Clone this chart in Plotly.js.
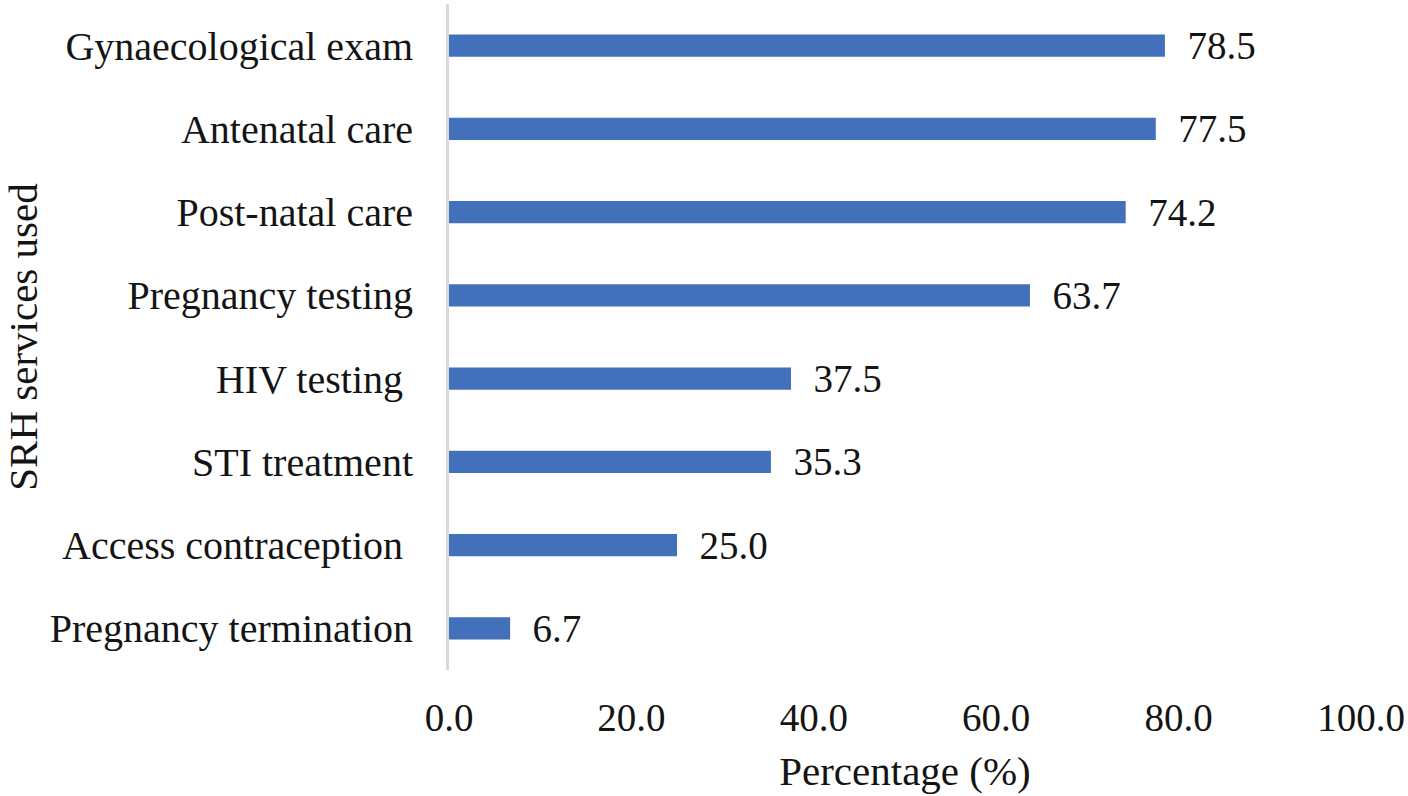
<!DOCTYPE html>
<html>
<head>
<meta charset="utf-8">
<script src="https://cdn.plot.ly/plotly-3.0.1.min.js"></script>
<style>html,body{margin:0;padding:0;background:#fff;}#chart{width:1408px;height:796px;}</style>
</head>
<body>
<div id="chart"></div>
<script>
const categories = ["Gynaecological exam", "Antenatal care", "Post-natal care", "Pregnancy testing", "HIV testing\u00a0", "STI treatment", "Access contraception\u00a0", "Pregnancy termination"];
const values = [78.5, 77.5, 74.2, 63.7, 37.5, 35.3, 25.0, 6.7];
const xTickVals = [0, 20, 40, 60, 80, 100];

const fontFam = 'Liberation Serif, Times New Roman, serif';
const txtColor = '#141414';

const trace = {
  type: 'bar',
  orientation: 'h',
  x: values,
  y: categories,
  marker: {color: '#4270BA'},
  text: values.map(v => '\u00a0\u00a0' + v.toFixed(1)),
  textposition: 'outside',
  constraintext: 'none',
  textfont: {family: fontFam, size: 39, color: txtColor},
  cliponaxis: false,
  hoverinfo: 'none'
};

const layout = {
  width: 1408,
  height: 796,
  margin: {l: 449, r: 47, t: 4, b: 126},
  paper_bgcolor: '#fff',
  plot_bgcolor: '#fff',
  showlegend: false,
  bargap: 0.735,
  font: {family: fontFam, size: 40, color: txtColor},
  xaxis: {
    range: [0, 100],
    tickvals: xTickVals,
    tickformat: '.1f',
    showgrid: false,
    zeroline: false,
    showline: false,
    ticks: '',
    ticklabelstandoff: 21,
    tickfont: {family: fontFam, size: 39, color: txtColor},
    title: {text: 'Percentage (%)', font: {family: fontFam, size: 41, color: txtColor}, standoff: 18},
    automargin: false
  },
  yaxis: {
    type: 'category',
    categoryorder: 'array',
    categoryarray: categories,
    autorange: 'reversed',
    showgrid: false,
    zeroline: false,
    showline: true,
    linecolor: '#d9d9d9',
    linewidth: 3,
    ticks: '',
    ticklabelstandoff: 25,
    tickfont: {family: fontFam, size: 40, color: txtColor},
    title: {text: 'SRH services used', font: {family: fontFam, size: 41, color: txtColor}, standoff: 4},
    automargin: true
  }
};

Plotly.newPlot('chart', [trace], layout, {displayModeBar: false, staticPlot: true});
</script>
</body>
</html>
